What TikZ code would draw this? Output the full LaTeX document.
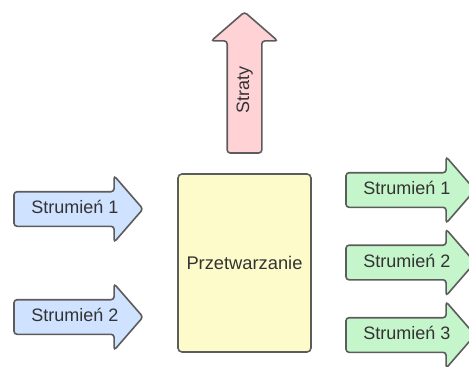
\documentclass[tikz,border=0pt]{standalone}
\usepackage{fontspec}
\setmainfont{Liberation Sans}
\usetikzlibrary{shapes.arrows}

% Colours of the diagram
\definecolor{inblue}{HTML}{CFE2FF}
\definecolor{outgreen}{HTML}{C5F5CA}
\definecolor{losspink}{HTML}{FFD3D6}
\definecolor{procyellow}{HTML}{FEFBCB}
\definecolor{edgegray}{HTML}{5C5C5C}
\definecolor{textgray}{HTML}{333333}

\begin{document}
\begin{tikzpicture}[x=1pt,y=-1pt,
  stream/.style={single arrow,draw=edgegray,line width=1.6pt,
    rounded corners=3pt,text height=12pt,text depth=3pt,
    inner xsep=0pt,inner ysep=9pt,single arrow head extend=16pt,
    single arrow tip angle=98,minimum height=129pt,
    font=\fontsize{18}{21}\selectfont,text=textgray},
  flow/.style={stream,execute at begin node={\hspace*{8pt}}},
  process/.style={draw=edgegray,line width=1.6pt,rounded corners=4pt,
    fill=procyellow,minimum width=133pt,minimum height=178pt,
    font=\fontsize{18.3}{21}\selectfont,text=textgray}]

% Page size of the reference
\useasboundingbox (0,0) rectangle (469,367);

% Process block
\node[process] (proc) at (244.5,263) {Przetwarzanie};

% Incoming streams
\node[flow,fill=inblue] (in1) at (71,209) {Strumień 1};
\node[flow,fill=inblue] (in2) at (71,317) {Strumień 2};

% Losses
\node[stream,fill=losspink,rotate=90,minimum height=141pt] (loss) at (244.5,90) {Straty};

% Outgoing streams
\node[flow,fill=outgreen] (out1) at (403,190) {Strumień 1};
\node[flow,fill=outgreen] (out2) at (403,262.5) {Strumień 2};
\node[flow,fill=outgreen] (out3) at (403,335) {Strumień 3};

\end{tikzpicture}
\end{document}
